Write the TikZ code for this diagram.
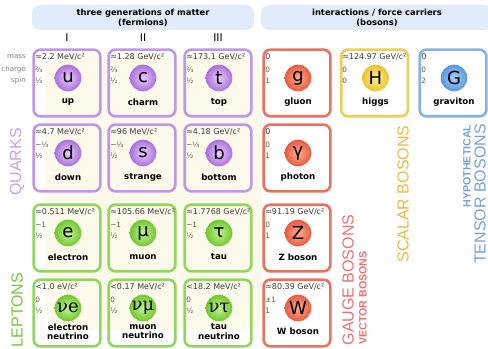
\documentclass[tikz,border=0pt]{standalone}
\usepackage{fontspec}
\setmainfont{DejaVu Sans}
\newfontfamily\capsfont{Liberation Sans}
\newfontfamily\nufont{DejaVu Serif}
\usepackage{tikz}
\definecolor{quarkcolor}{RGB}{192,150,230}
\definecolor{quarkball}{RGB}{170,112,220}
\definecolor{quarklight}{RGB}{232,205,250}
\definecolor{leptoncolor}{RGB}{145,215,95}
\definecolor{leptonball}{RGB}{112,200,45}
\definecolor{leptonlight}{RGB}{195,242,150}
\definecolor{gaugecolor}{RGB}{232,115,95}
\definecolor{gaugeball}{RGB}{232,90,62}
\definecolor{gaugelight}{RGB}{252,175,145}
\definecolor{higgscolor}{RGB}{240,205,85}
\definecolor{higgsball}{RGB}{236,196,45}
\definecolor{higgslight}{RGB}{253,238,150}
\definecolor{gravcolor}{RGB}{135,178,228}
\definecolor{gravball}{RGB}{88,150,225}
\definecolor{gravlight}{RGB}{170,208,248}
\definecolor{headfill}{RGB}{226,235,250}
\definecolor{creamfill}{RGB}{253,250,236}
\definecolor{infogray}{RGB}{60,60,60}
\definecolor{chargecolor}{RGB}{105,90,40}
\definecolor{quarklabel}{RGB}{200,160,236}
\definecolor{leptonlabel}{RGB}{118,198,58}
\definecolor{gaugelabel}{RGB}{236,112,110}
\definecolor{scalarlabel}{RGB}{235,185,70}
\definecolor{tensorlabel}{RGB}{120,160,215}

\tikzset{
  cell/.style={draw, line width=2pt, rounded corners=5pt, minimum width=50pt, minimum height=50pt, inner sep=0pt},
  quark/.style={cell, draw=quarkcolor},
  lepton/.style={cell, draw=leptoncolor},
  gauge/.style={cell, draw=gaugecolor},
  scalar/.style={cell, draw=higgscolor},
  tensor/.style={cell, draw=gravcolor},
  ball/.style={circle, minimum size=20pt, inner sep=0pt, font=\fontsize{13.5}{13.5}\selectfont},
  quarkball/.style={ball, inner color=quarklight, outer color=quarkball},
  leptonball/.style={ball, inner color=leptonlight, outer color=leptonball},
  gaugeball/.style={ball, inner color=gaugelight, outer color=gaugeball},
  scalarball/.style={ball, inner color=higgslight, outer color=higgsball},
  tensorball/.style={ball, inner color=gravlight, outer color=gravball},
  massval/.style={anchor=west, inner sep=0pt, text=infogray, font=\fontsize{6}{6}\selectfont},
  infoval/.style={anchor=west, inner sep=0pt, text=chargecolor, font=\fontsize{5.5}{6}\selectfont},
  pname/.style={inner sep=0pt, align=center, font=\bfseries\fontsize{6.5}{6.8}\selectfont},
  rowlabel/.style={anchor=east, inner sep=0pt, text=gray, font=\fontsize{5.3}{6}\selectfont},
  headbox/.style={fill=headfill, rounded corners=6pt, align=center, inner sep=0pt, font=\bfseries\fontsize{6.3}{7.5}\selectfont},
  bigcaps/.style={rotate=90, inner sep=0pt, font=\capsfont\fontsize{12}{12}\selectfont},
  smallcaps/.style={rotate=90, inner sep=0pt, font=\capsfont\bfseries\fontsize{8}{8}\selectfont}
}

\begin{document}
\begin{tikzpicture}[x=0.75pt, y=-0.75pt]
  \useasboundingbox (0,0) rectangle (488,349);
  % Headers
  \node[headbox, minimum width=166.5pt, minimum height=18.75pt] (fermhead) at (143,17.5) {three generations of matter\\(fermions)};
  \node[headbox, minimum width=174pt, minimum height=18.75pt] (boshead) at (377,17.5) {interactions / force carriers\\(bosons)};
  % Generations
  \node[font=\fontsize{8}{8}\selectfont] (gen1) at (67,38) {I};
  \node[font=\fontsize{8}{8}\selectfont] (gen2) at (143,38) {II};
  \node[font=\fontsize{8}{8}\selectfont] (gen3) at (218,38) {III};
  % Row labels
  \node[rowlabel] (masslab) at (26,57) {mass};
  \node[rowlabel] (chargelab) at (26,70) {charge};
  \node[rowlabel] (spinlab) at (26,81) {spin};
  % Cream background
  \fill[creamfill, rounded corners=15pt] (45,56) rectangle (262,330);

  % Quarks, first row
  \node[quark] (up) at (67,83) {};
  \node[quarkball] (u) at (68,78) {u};
  \node[massval] (umass) at (35,57) {≈2.2 MeV/c²};
  \node[infoval] (ucharge) at (35,70) {⅔};
  \node[infoval] (uspin) at (35,81) {½};
  \node[pname] (uname) at (68,102) {up};
  \node[quark] (charm) at (142,83) {};
  \node[quarkball] (c) at (143,78) {c};
  \node[massval] (cmass) at (110,57) {≈1.28 GeV/c²};
  \node[infoval] (ccharge) at (110,70) {⅔};
  \node[infoval] (cspin) at (110,81) {½};
  \node[pname] (cname) at (143,102) {charm};
  \node[quark] (top) at (218,83) {};
  \node[quarkball] (t) at (219,78) {t};
  \node[massval] (tmass) at (186,57) {≈173.1 GeV/c²};
  \node[infoval] (tcharge) at (186,70) {⅔};
  \node[infoval] (tspin) at (186,81) {½};
  \node[pname] (tname) at (219,102) {top};
  % Quarks, second row
  \node[quark] (down) at (67,158) {};
  \node[quarkball] (d) at (68,153) {d};
  \node[massval] (dmass) at (35,132) {≈4.7 MeV/c²};
  \node[infoval] (dcharge) at (35,145) {−⅓};
  \node[infoval] (dspin) at (35,156) {½};
  \node[pname] (dname) at (68,177) {down};
  \node[quark] (strange) at (142,158) {};
  \node[quarkball] (s) at (143,153) {s};
  \node[massval] (smass) at (110,132) {≈96 MeV/c²};
  \node[infoval] (scharge) at (110,145) {−⅓};
  \node[infoval] (sspin) at (110,156) {½};
  \node[pname] (sname) at (143,177) {strange};
  \node[quark] (bottom) at (218,158) {};
  \node[quarkball] (b) at (219,153) {b};
  \node[massval] (bmass) at (186,132) {≈4.18 GeV/c²};
  \node[infoval] (bcharge) at (186,145) {−⅓};
  \node[infoval] (bspin) at (186,156) {½};
  \node[pname] (bname) at (219,177) {bottom};

  % Leptons, charged
  \node[lepton] (electron) at (67,238) {};
  \node[leptonball] (e) at (68,233) {e};
  \node[massval] (emass) at (35,212) {≈0.511 MeV/c²};
  \node[infoval] (echarge) at (35,225) {−1};
  \node[infoval] (espin) at (35,236) {½};
  \node[pname] (ename) at (68,257) {electron};
  \node[lepton] (muon) at (142,238) {};
  \node[leptonball] (mu) at (143,233) {μ};
  \node[massval] (mumass) at (110,212) {≈105.66 MeV/c²};
  \node[infoval] (mucharge) at (110,225) {−1};
  \node[infoval] (muspin) at (110,236) {½};
  \node[pname] (muname) at (143,257) {muon};
  \node[lepton] (tau) at (218,238) {};
  \node[leptonball] (ta) at (219,233) {τ};
  \node[massval] (tamass) at (186,212) {≈1.7768 GeV/c²};
  \node[infoval] (tacharge) at (186,225) {−1};
  \node[infoval] (taspin) at (186,236) {½};
  \node[pname] (taname) at (219,257) {tau};
  % Leptons, neutrinos
  \node[lepton] (enu) at (67,313) {};
  \node[leptonball] (ne) at (68,308) {\nufont νe};
  \node[massval] (nemass) at (35,287) {<1.0 eV/c²};
  \node[infoval] (necharge) at (35,300) {0};
  \node[infoval] (nespin) at (35,311) {½};
  \node[pname] (nename) at (68,331.5) {electron\\neutrino};
  \node[lepton] (munu) at (142,313) {};
  \node[leptonball] (nm) at (143,308) {\nufont νμ};
  \node[massval] (nmmass) at (110,287) {<0.17 MeV/c²};
  \node[infoval] (nmcharge) at (110,300) {0};
  \node[infoval] (nmspin) at (110,311) {½};
  \node[pname] (nmname) at (143,331.5) {muon\\neutrino};
  \node[lepton] (taunu) at (218,313) {};
  \node[leptonball] (nt) at (219,308) {\nufont ντ};
  \node[massval] (ntmass) at (186,287) {<18.2 MeV/c²};
  \node[infoval] (ntcharge) at (186,300) {0};
  \node[infoval] (ntspin) at (186,311) {½};
  \node[pname] (ntname) at (219,331.5) {tau\\neutrino};

  % Gauge bosons
  \node[gauge] (gluon) at (297,83) {};
  \node[gaugeball] (g) at (298,78) {g};
  \node[massval] (gmass) at (265,57) {0};
  \node[infoval] (gcharge) at (265,70) {0};
  \node[infoval] (gspin) at (265,81) {1};
  \node[pname] (gname) at (298,102) {gluon};
  \node[gauge] (photon) at (297,158) {};
  \node[gaugeball] (ga) at (298,153) {γ};
  \node[massval] (gamass) at (265,132) {0};
  \node[infoval] (gacharge) at (265,145) {0};
  \node[infoval] (gaspin) at (265,156) {1};
  \node[pname] (ganame) at (298,177) {photon};
  \node[gauge] (zboson) at (297,238) {};
  \node[gaugeball] (z) at (298,233) {Z};
  \node[massval] (zmass) at (265,212) {≈91.19 GeV/c²};
  \node[infoval] (zcharge) at (265,225) {0};
  \node[infoval] (zspin) at (265,236) {1};
  \node[pname] (zname) at (298,257) {Z boson};
  \node[gauge] (wboson) at (297,313) {};
  \node[gaugeball] (w) at (298,308) {W};
  \node[massval] (wmass) at (265,287) {≈80.39 GeV/c²};
  \node[infoval] (wcharge) at (265,300) {±1};
  \node[infoval] (wspin) at (265,311) {1};
  \node[pname] (wname) at (298,331.5) {W boson};

  % Scalar boson
  \node[scalar] (higgs) at (374.5,83) {};
  \node[scalarball] (h) at (375.5,78) {H};
  \node[massval] (hmass) at (342,57) {≈124.97 GeV/c²};
  \node[infoval] (hcharge) at (342,70) {0};
  \node[infoval] (hspin) at (342,81) {0};
  \node[pname] (hname) at (375.5,102) {higgs};
  % Tensor boson
  \node[tensor] (graviton) at (453,83) {};
  \node[tensorball] (gr) at (454,78) {G};
  \node[massval] (grmass) at (421,57) {0};
  \node[infoval] (grcharge) at (421,70) {0};
  \node[infoval] (grspin) at (421,81) {2};
  \node[pname] (grname) at (454,102) {graviton};

  % Group labels
  \node[bigcaps, text=quarklabel] (quarks) at (17,162) {QUARKS};
  \node[bigcaps, text=leptonlabel] (leptons) at (17,310) {LEPTONS};
  \node[bigcaps, text=gaugelabel] (gaugelab) at (348,280) {GAUGE BOSONS};
  \node[smallcaps, text=gaugelabel] (vectorlab) at (363,298) {VECTOR BOSONS};
  \node[bigcaps, text=scalarlabel] (scalarlab) at (403,194) {SCALAR BOSONS};
  \node[smallcaps, text=tensorlabel] (hypolab) at (467,166) {HYPOTHETICAL};
  \node[bigcaps, text=tensorlabel] (tensorlab) at (480,194) {TENSOR BOSONS};
\end{tikzpicture}
\end{document}
